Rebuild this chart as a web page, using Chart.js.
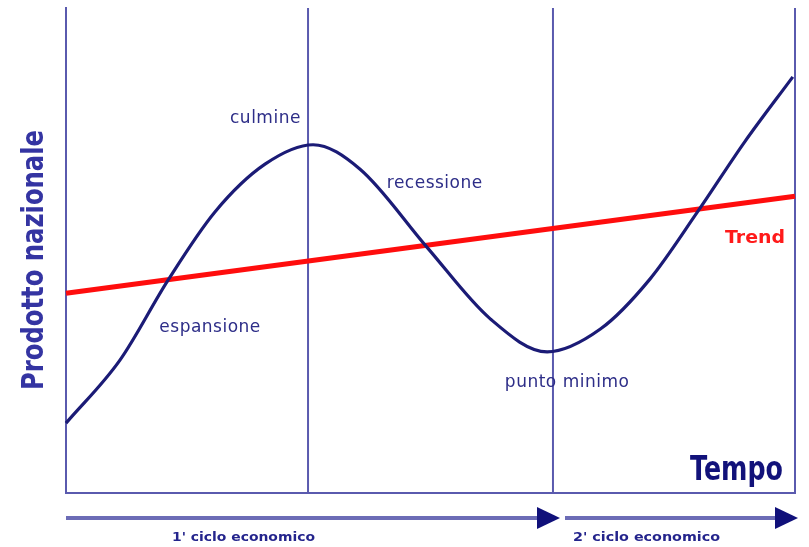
<!DOCTYPE html>
<html>
<head>
<meta charset="utf-8">
<script src="https://cdn.jsdelivr.net/npm/chart.js@4"></script>
<style>
html,body{margin:0;padding:0;background:#fff;}
#wrap{width:809px;height:547px;position:relative;}
</style>
</head>
<body>
<div id="wrap"><canvas id="c" width="809" height="547"></canvas></div>
<script>
// Time (0..100) and national product (0..100) readings
const cycleX = [0, 7.4, 14.0, 20.4, 27.3, 33.9, 40.3, 49.5, 58.2, 66.0, 73.3, 80.1, 86.6, 93.1, 99.7];
const cycleY = [14.4, 27.4, 43.9, 57.9, 67.8, 71.8, 66.8, 50.7, 35.9, 29.1, 33.8, 44.1, 57.9, 72.4, 85.8];
const trendX = [0, 100];
const trendY = [41.2, 61.2];
const dividerX = [33.2, 66.8, 100];
const phaseLabels = ["culmine", "recessione", "espansione", "punto minimo"];
const phaseX = [22.5, 44.0, 12.8, 60.2];
const phaseY = [76.3, 62.9, 33.2, 21.9];
const cycleNames = ["1' ciclo economico", "2' ciclo economico"];
const yTitle = "Prodotto nazionale";
const xTitle = "Tempo";
const trendLabel = "Trend";

const pts = (xs, ys) => xs.map((x, i) => ({x, y: ys[i]}));

const datasets = [];
dividerX.forEach(x => datasets.push({
  data: [{x, y: 0}, {x, y: 100}],
  borderColor: '#5a5aae', borderWidth: 2, pointRadius: 0, order: 3, clip: false
}));
datasets.push({
  data: pts(trendX, trendY), borderColor: '#ff0d0d', borderWidth: 5,
  pointRadius: 0, order: 2, clip: false
});
datasets.push({
  data: pts(cycleX, cycleY), borderColor: '#1b1b76', borderWidth: 3.2,
  pointRadius: 0, cubicInterpolationMode: 'monotone', order: 1, clip: false
});

function fitText(ctx, text, x, y, width) {
  const w = ctx.measureText(text).width;
  ctx.save();
  ctx.translate(x, y);
  ctx.scale(width / w, 1);
  ctx.fillText(text, 0, 0);
  ctx.restore();
}

const textPlugin = {
  id: 'texts',
  afterDraw(chart) {
    const ctx = chart.ctx;
    const xs = chart.scales.x, ys = chart.scales.y;
    ctx.save();
    // phase labels
    ctx.fillStyle = '#2e2e88';
    ctx.font = '17px "DejaVu Sans"';
    ctx.letterSpacing = '0.5px';
    ctx.textAlign = 'left';
    ctx.textBaseline = 'alphabetic';
    phaseLabels.forEach((t, i) => {
      ctx.fillText(t, xs.getPixelForValue(phaseX[i]), ys.getPixelForValue(phaseY[i]));
    });
    ctx.letterSpacing = '0px';
    // Trend
    ctx.fillStyle = '#ff1a1a';
    ctx.font = 'bold 18px "DejaVu Sans"';
    ctx.textAlign = 'left';
    fitText(ctx, trendLabel, 725, 243, 60);
    // Tempo
    ctx.fillStyle = '#12127a';
    ctx.font = 'bold 33px "DejaVu Sans"';
    fitText(ctx, xTitle, 690, 480, 93);
    // y title
    ctx.save();
    ctx.translate(43, 390);
    ctx.rotate(-Math.PI / 2);
    ctx.fillStyle = '#3434a2';
    ctx.font = 'bold 30px "DejaVu Sans"';
    fitText(ctx, yTitle, 0, 0, 260);
    ctx.restore();
    // arrows
    const y0 = 518;
    const x0 = xs.getPixelForValue(0);
    const arrow = (a, tip) => {
      ctx.strokeStyle = '#6c6cb6';
      ctx.lineWidth = 4;
      ctx.beginPath();
      ctx.moveTo(a, y0); ctx.lineTo(tip - 20, y0); ctx.stroke();
      ctx.fillStyle = '#10107a';
      ctx.beginPath();
      ctx.moveTo(tip - 23, y0 - 11); ctx.lineTo(tip, y0); ctx.lineTo(tip - 23, y0 + 11); ctx.closePath();
      ctx.fill();
    };
    arrow(x0, 560);
    arrow(565, 798);
    ctx.fillStyle = '#24248c';
    ctx.font = 'bold 12px "DejaVu Sans"';
    ctx.textAlign = 'left';
    fitText(ctx, cycleNames[0], 172, 541, 143);
    fitText(ctx, cycleNames[1], 573, 541, 147);
    ctx.restore();
  }
};

new Chart(document.getElementById('c'), {
  type: 'line',
  data: { datasets },
  options: {
    responsive: false,
    animation: false,
    layout: { padding: { left: 58, right: 14, top: 8, bottom: 46 } },
    plugins: { legend: { display: false }, tooltip: { enabled: false } },
    scales: {
      x: { type: 'linear', min: 0, max: 100,
           grid: { display: false }, ticks: { display: false },
           border: { display: true, color: '#5a5aae', width: 2 } },
      y: { type: 'linear', min: 0, max: 100,
           grid: { display: false }, ticks: { display: false },
           border: { display: true, color: '#5a5aae', width: 2 } }
    }
  },
  plugins: [textPlugin]
});
</script>
</body>
</html>
